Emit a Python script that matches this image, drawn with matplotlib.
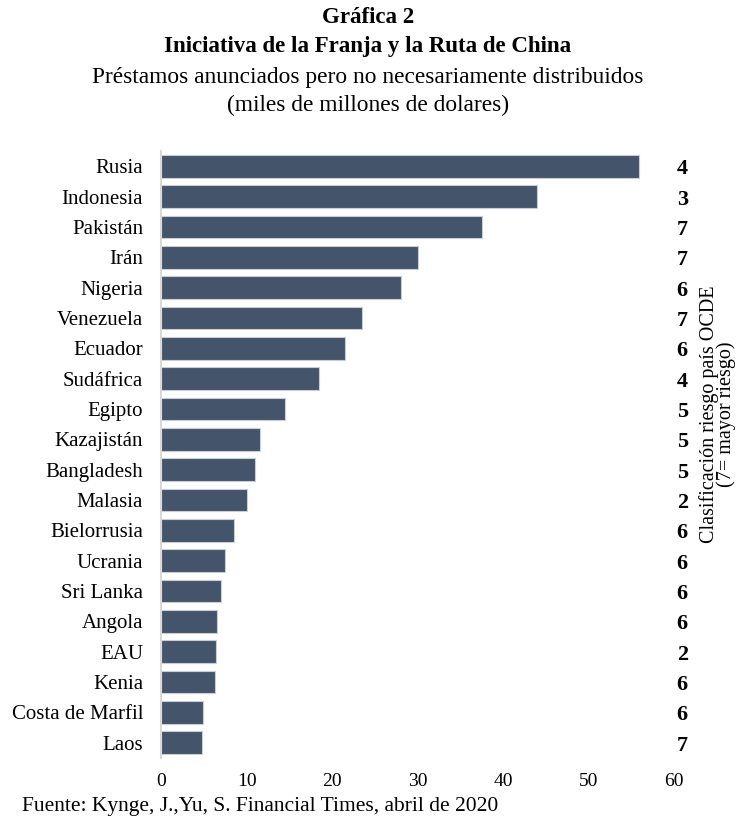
import matplotlib.pyplot as plt
import matplotlib.transforms as mtransforms

plt.rcParams['font.family'] = ['Liberation Serif', 'DejaVu Serif']

paises = ['Rusia', 'Indonesia', 'Pakistán', 'Irán', 'Nigeria', 'Venezuela',
          'Ecuador', 'Sudáfrica', 'Egipto', 'Kazajistán', 'Bangladesh',
          'Malasia', 'Bielorrusia', 'Ucrania', 'Sri Lanka', 'Angola', 'EAU',
          'Kenia', 'Costa de Marfil', 'Laos']
prestamos = [55.9, 43.9, 37.5, 30.0, 28.0, 23.5, 21.5, 18.5, 14.5, 11.5,
             11.0, 10.0, 8.5, 7.5, 7.0, 6.5, 6.4, 6.3, 4.9, 4.8]
riesgo = [4, 3, 7, 7, 6, 7, 6, 4, 5, 5, 5, 2, 6, 6, 6, 6, 2, 6, 6, 7]

fig = plt.figure(figsize=(7.36, 8.21), dpi=100)
ax = fig.add_axes([0.219, 0.077, 0.697, 0.739])

pos = list(range(len(paises)))
ax.barh(pos, prestamos, height=0.75, color='#44546A', edgecolor='#c9ced6',
        linewidth=0.8)
ax.set_ylim(len(paises) - 0.5, -0.5)
ax.set_xlim(0, 60)
ax.set_yticks(pos)
ax.set_yticklabels(paises, fontsize=15)
ax.set_xticks(range(0, 61, 10))
ax.tick_params(axis='x', labelsize=14, length=0, pad=11)
ax.tick_params(axis='y', length=0, pad=13)
for s in ['top', 'right', 'bottom']:
    ax.spines[s].set_visible(False)
ax.spines['left'].set_color('#d9d9d9')
ax.spines['left'].set_linewidth(1.5)

# clasificacion de riesgo a la derecha
trans = mtransforms.blended_transform_factory(ax.transAxes, ax.transData)
for i, r in enumerate(riesgo):
    ax.text(1.005, i + 0.1, str(r), transform=trans, fontsize=16,
            fontweight='bold', ha='left', va='center')

fig.text(0.975, 0.496, 'Clasificación riesgo país OCDE\n(7= mayor riesgo)',
         rotation=90, ha='center', va='center', fontsize=14.5,
         multialignment='center', linespacing=0.85)

fig.text(0.5, 0.979, 'Gráfica 2', ha='center', va='center', fontsize=16.5,
         fontweight='bold')
fig.text(0.5, 0.943, 'Iniciativa de la Franja y la Ruta de China',
         ha='center', va='center', fontsize=16.5, fontweight='bold')
fig.text(0.5, 0.906, 'Préstamos anunciados pero no necesariamente distribuidos',
         ha='center', va='center', fontsize=16.8)
fig.text(0.5, 0.872, '(miles de millones de dolares)', ha='center',
         va='center', fontsize=16.8)

fig.text(0.03, 0.018, 'Fuente: Kynge, J.,Yu, S. Financial Times, abril de 2020',
         ha='left', va='center', fontsize=15.5)

fig.savefig('out.png', dpi=100)
